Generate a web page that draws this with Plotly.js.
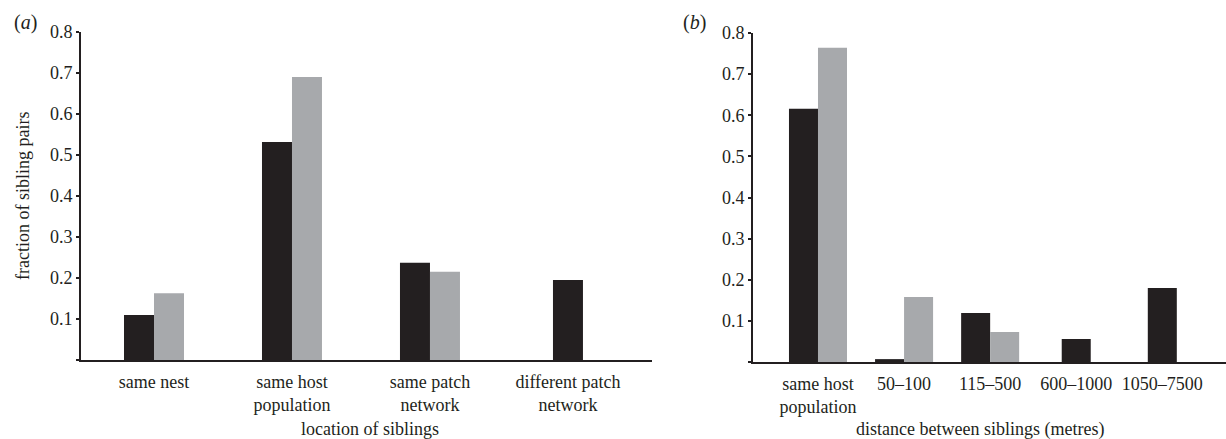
<!DOCTYPE html>
<html>
<head>
<meta charset="utf-8">
<script src="https://cdn.plot.ly/plotly-3.0.1.min.js"></script>
<style>html,body{margin:0;padding:0;background:#fff;}#chart{width:1226px;height:439px;}</style>
</head>
<body>
<div id="chart"></div>
<script>
// Panel (a): location of siblings
var catsA = ["same nest", "same host<br>population", "same patch<br>network", "different patch<br>network"];
var blackA = [0.11, 0.532, 0.237, 0.195];
var grayA = [0.163, 0.69, 0.215, null];

// Panel (b): distance between siblings (metres)
var catsB = ["same host<br>population", "50\u2013100", "115\u2013500", "600\u20131000", "1050\u20137500"];
var blackB = [0.616, 0.007, 0.119, 0.056, 0.18];
var grayB = [0.764, 0.158, 0.073, null, null];

var yTickVals = [0, 0.1, 0.2, 0.3, 0.4, 0.5, 0.6, 0.7, 0.8];
var yTickText = ["", "0.1", "0.2", "0.3", "0.4", "0.5", "0.6", "0.7", "0.8"];

var BLACK = "#231f20", GRAY = "#a7a9ac";
var FONT = "Liberation Serif";

function pair(cats, blk, gry, w, xa, ya) {
  var offB = gry.map(function (g) { return g === null ? -w / 2 : -w; });
  return [
    {type: "bar", x: cats, y: blk, xaxis: xa, yaxis: ya, width: w, offset: offB,
     marker: {color: BLACK, line: {width: 0}}, hoverinfo: "x+y", showlegend: false},
    {type: "bar", x: cats, y: gry, xaxis: xa, yaxis: ya, width: w, offset: 0,
     marker: {color: GRAY, line: {width: 0}}, hoverinfo: "x+y", showlegend: false}
  ];
}

var data = pair(catsA, blackA, grayA, 0.2174, "x", "y").concat(pair(catsB, blackB, grayB, 0.337, "x2", "y2"));

var W = 1226, H = 439;
function px(x) { return x / W; }
function py(y) { return (H - y) / H; }

var yCommon = {
  range: [0, 0.8], tickvals: yTickVals, ticktext: yTickText,
  showline: true, linecolor: BLACK, linewidth: 2,
  ticks: "outside", ticklen: 3, tickwidth: 2, tickcolor: BLACK,
  showgrid: false, zeroline: false,
  tickfont: {family: FONT, size: 18, color: BLACK}
};
var xCommon = {
  type: "category", showline: true, linecolor: BLACK, linewidth: 2,
  ticks: "", showgrid: false, zeroline: false, ticklabelstandoff: 4,
  tickfont: {family: FONT, size: 18, color: BLACK}
};

var layout = {
  width: W, height: H,
  margin: {l: 0, r: 0, t: 0, b: 0},
  paper_bgcolor: "#fff", plot_bgcolor: "#fff",
  barmode: "overlay",
  font: {family: FONT, size: 18, color: BLACK},
  xaxis: Object.assign({}, xCommon, {domain: [px(81), px(652)], range: [-0.529, 3.609], anchor: "y"}),
  yaxis: Object.assign({}, yCommon, {domain: [py(360), py(32)], anchor: "x"}),
  xaxis2: Object.assign({}, xCommon, {domain: [px(753), 1], range: [-0.755, 4.74], anchor: "y2"}),
  yaxis2: Object.assign({}, yCommon, {domain: [py(362), py(33)], anchor: "x2"}),
  annotations: [
    {text: "(<i>a</i>)", xref: "paper", yref: "paper", x: px(25), y: py(23), showarrow: false,
     xanchor: "center", yanchor: "middle", font: {family: FONT, size: 20, color: BLACK}},
    {text: "(<i>b</i>)", xref: "paper", yref: "paper", x: px(694), y: py(23), showarrow: false,
     xanchor: "center", yanchor: "middle", font: {family: FONT, size: 20, color: BLACK}},
    {text: "fraction of sibling pairs", xref: "paper", yref: "paper", x: px(23), y: py(196), textangle: -90,
     showarrow: false, xanchor: "center", yanchor: "middle", font: {family: FONT, size: 18, color: BLACK}},
    {text: "location of siblings", xref: "paper", yref: "paper", x: px(370), y: py(429), showarrow: false,
     xanchor: "center", yanchor: "middle", font: {family: FONT, size: 18, color: BLACK}},
    {text: "distance between siblings (metres)", xref: "paper", yref: "paper", x: px(980), y: py(429), showarrow: false,
     xanchor: "center", yanchor: "middle", font: {family: FONT, size: 18, color: BLACK}}
  ]
};

Plotly.newPlot("chart", data, layout, {displayModeBar: false, staticPlot: true});
</script>
</body>
</html>
